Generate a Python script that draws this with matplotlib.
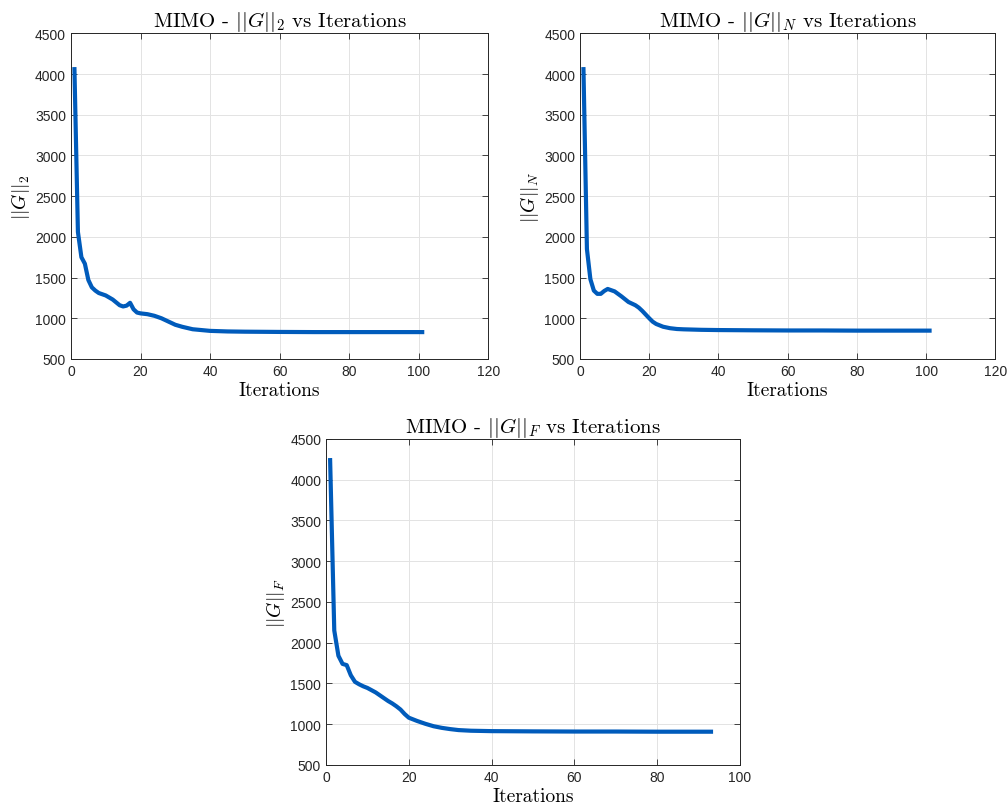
import matplotlib
matplotlib.use("Agg")
import matplotlib.pyplot as plt

plt.rcParams['mathtext.fontset'] = 'cm'
plt.rcParams['font.family'] = ['Liberation Sans', 'DejaVu Sans']

# ||G||_2
it_2 = [1, 2, 3, 4, 5, 6, 7, 8, 10, 12, 14, 15, 16, 17, 18, 19, 20, 22, 24, 26,
        28, 30, 32, 35, 40, 45, 50, 60, 70, 80, 90, 101]
g_2 = [4060, 2060, 1750, 1670, 1470, 1380, 1340, 1310, 1280, 1230, 1160, 1145,
       1155, 1190, 1110, 1070, 1060, 1050, 1030, 1000, 960, 920, 895, 865, 845,
       838, 835, 832, 830, 830, 830, 830]

# ||G||_N
it_n = [1, 2, 3, 4, 5, 6, 7, 8, 9, 10, 12, 14, 16, 17, 18, 19, 20, 21, 22, 24,
        26, 28, 30, 35, 40, 50, 60, 70, 80, 90, 101]
g_n = [4060, 1850, 1480, 1340, 1300, 1300, 1335, 1360, 1345, 1330, 1268, 1200,
       1160, 1130, 1090, 1045, 1000, 958, 930, 896, 878, 868, 864, 858, 855, 852,
       850, 850, 848, 848, 848]

# ||G||_F
it_f = [1, 2, 3, 4, 5, 6, 7, 8, 9, 10, 12, 14, 15, 16, 17, 18, 19, 20, 21, 22,
        24, 26, 28, 30, 32, 35, 40, 50, 60, 70, 80, 93]
g_f = [4240, 2150, 1840, 1740, 1725, 1600, 1520, 1490, 1465, 1445, 1390, 1320,
       1285, 1255, 1220, 1180, 1125, 1080, 1060, 1040, 1005, 975, 955, 940, 928,
       920, 915, 912, 910, 910, 908, 908]

line_color = '#005BBB'

fig = plt.figure(figsize=(10.08, 8.12), dpi=100)

panels = [
    ([0.0704, 0.5567, 0.414, 0.401], it_2, g_2, '2', 120),
    ([0.5754, 0.5567, 0.412, 0.401], it_n, g_n, 'N', 120),
    ([0.3234, 0.0567, 0.4107, 0.4015], it_f, g_f, 'F', 100),
]

for rect, x, y, sub, xmax in panels:
    ax = fig.add_axes(rect)
    ax.plot(x, y, color=line_color, lw=3.0)
    ax.set_xlim(0, xmax)
    ax.set_ylim(500, 4500)
    ax.set_xticks(range(0, xmax + 1, 20))
    ax.set_yticks(range(500, 4501, 500))
    ax.grid(True, color='#e3e3e3', lw=0.7)
    ax.set_axisbelow(True)
    ax.tick_params(direction='in', top=True, right=True, labelsize=10,
                   colors='#262626', length=4, width=0.6)
    for s in ax.spines.values():
        s.set_color('#262626')
        s.set_linewidth(0.7)
    ax.set_title(r'MIMO - $||G||_{%s}$ vs Iterations' % sub,
                 fontsize=15, pad=5, fontfamily='cmr10')
    ax.set_xlabel('Iterations', fontsize=14, labelpad=2, fontfamily='cmr10')
    ax.set_ylabel(r'$||G||_{%s}$' % sub, fontsize=14, labelpad=2)

fig.savefig('out.png', dpi=100, facecolor='white')
